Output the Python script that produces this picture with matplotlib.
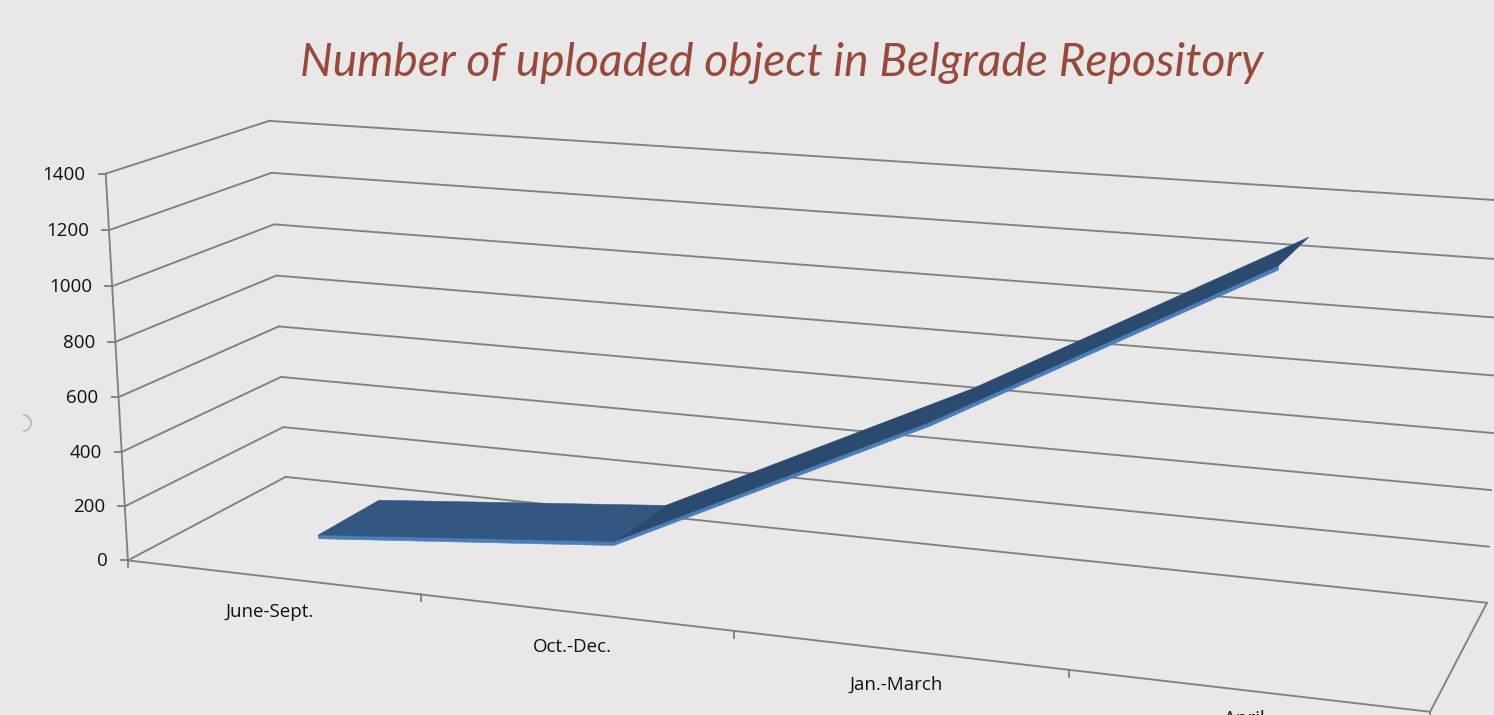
import numpy as np
import matplotlib
matplotlib.use("Agg")
import matplotlib.pyplot as plt
from matplotlib.patches import Arc, Polygon

# data
categories = ["June-Sept.", "Oct.-Dec.", "Jan.-March", "April"]
uploaded = [55, 150, 685, 1300]
value_ticks = [0, 200, 400, 600, 800, 1000, 1200, 1400]

TITLE = "Number of uploaded object in Belgrade Repository"
BG = "#e9e7e7"
GRID = "#808080"
TOP_LIGHT = "#335780"
TOP_DARK = "#2a4a70"
EDGE = "#4a7ebb"
RIBBON_FRONT = 0.30
RIBBON_BACK = 0.71
RIBBON_THICK = 14
LABEL_DROP = [35, 35, 35, 29]

# where the chart box sits on the picture: (category, value, depth) -> pixel
box_3d = np.array([
    (0, 0, 0), (0, 1400, 0), (0, 0, 1), (0, 1400, 1),
    (4, 0, 1), (4, 1400, 1), (4, 0, 0),
    (1, 0, 0), (2, 0, 0), (3, 0, 0),
], dtype=float)
box_px = np.array([
    (128, 560), (105, 174), (285, 477), (270, 121),
    (1487, 603), (1502, 200), (1430, 712),
    (421, 594), (734, 631), (1069, 670),
], dtype=float)


def fit_projection(pts, px):
    rows, rhs = [], []
    for (x, y, z), (u, v) in zip(pts, px):
        rows.append([x, y, z, 1, 0, 0, 0, 0, -u * x, -u * y, -u * z])
        rhs.append(u)
        rows.append([0, 0, 0, 0, x, y, z, 1, -v * x, -v * y, -v * z])
        rhs.append(v)
    sol = np.linalg.lstsq(np.array(rows), np.array(rhs), rcond=None)[0]
    return np.append(sol, 1).reshape(3, 4)


P = fit_projection(box_3d, box_px)


def project(x, y, z):
    u, v, w = P @ np.array([x, y, z, 1.0])
    return u / w, v / w


fig = plt.figure(figsize=(14.94, 7.15), dpi=100, facecolor=BG)
ax = fig.add_axes([0, 0, 1, 1])
ax.set_xlim(0, 1494)
ax.set_ylim(715, 0)
ax.axis("off")


def line3d(a, b, lw=1.35, color=GRID, z=2):
    pa, pb = project(*a), project(*b)
    ax.plot([pa[0], pb[0]], [pa[1], pb[1]], color=color, lw=lw, zorder=z,
            solid_capstyle="round")


# walls
for val in value_ticks:
    line3d((0, val, 0), (0, val, 1))
    line3d((0, val, 1), (4, val, 1))
    px, py = project(0, val, 0)
    ax.plot([px - 7, px], [py, py], color=GRID, lw=1.35, zorder=2)
    ax.text(px - 20, py + 1, str(val), ha="right", va="center", fontsize=13.5,
            family="Open Sans", color="#111111")

line3d((0, 0, 0), (0, 1400, 0))
line3d((0, 0, 0), (4, 0, 0))
line3d((4, 0, 0), (4, 0, 1))

# category ticks and labels
for i in range(len(categories) + 1):
    px, py = project(i, 0, 0)
    ax.plot([px, px], [py, py + 7], color=GRID, lw=1.35, zorder=2)
for i, name in enumerate(categories):
    px, py = project(i + 0.5, 0, 0)
    ax.text(px - 2, py + LABEL_DROP[i], name, ha="center", va="center", fontsize=13.5,
            family="Open Sans", color="#111111", clip_on=False)

# ribbon
xs = np.arange(len(uploaded)) + 0.5
for i in range(len(uploaded) - 1):
    x0, x1 = xs[i], xs[i + 1]
    v0, v1 = uploaded[i], uploaded[i + 1]
    band = [project(x0, v0, RIBBON_FRONT), project(x1, v1, RIBBON_FRONT),
            project(x1, v1 - RIBBON_THICK, RIBBON_FRONT),
            project(x0, v0 - RIBBON_THICK, RIBBON_FRONT)]
    ax.add_patch(Polygon(band, closed=True, fc=EDGE, ec=EDGE, lw=0.4, zorder=4))
for i in range(len(uploaded) - 1, 0, -1):
    x0, x1 = xs[i - 1], xs[i]
    v0, v1 = uploaded[i - 1], uploaded[i]
    top = [project(x0, v0, RIBBON_FRONT), project(x1, v1, RIBBON_FRONT),
           project(x1, v1, RIBBON_BACK), project(x0, v0, RIBBON_BACK)]
    col = TOP_LIGHT if i == 1 else TOP_DARK
    ax.add_patch(Polygon(top, closed=True, fc=col, ec=col, lw=0.4, zorder=5 + (i == 1)))

ax.text(782, 63, TITLE, ha="center", va="center", fontsize=33.2, style="italic",
        family="Lato", color="#974a3c")

# loading spinner left on the screenshot
ax.add_patch(Arc((23, 423), 16, 16, theta1=-90, theta2=90, color="#b5b5b5", lw=1.2))

fig.savefig("out.png", dpi=100, facecolor=BG)
